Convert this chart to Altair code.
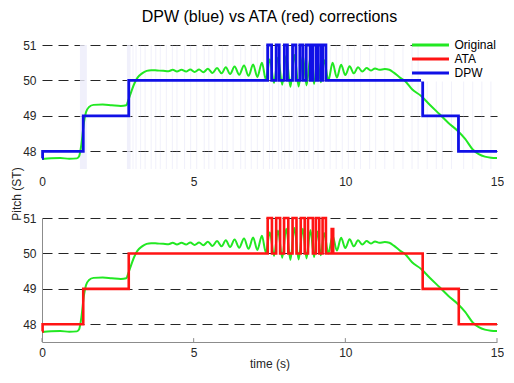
import altair as alt
import pandas as pd

# ---------------- data ----------------
orig_t = [0.0, 0.3, 0.6, 0.9, 1.15, 1.22, 1.3, 1.38, 1.45, 1.55, 1.7, 2.0, 2.3, 2.6, 2.78,
          2.85, 2.95, 3.05, 3.15, 3.3, 3.45, 3.6, 3.8, 4.0,
          4.17, 4.31, 4.45, 4.6, 4.75, 4.89, 5.03, 5.18, 5.32, 5.47, 5.62, 5.77, 5.92, 6.06,
          6.2, 6.35, 6.5, 6.66, 6.81, 6.96, 7.1, 7.25, 7.38, 7.51, 7.65, 7.78, 7.92, 8.05,
          8.19, 8.32, 8.46, 8.6, 8.72, 8.85, 8.97, 9.08, 9.19, 9.3, 9.44, 9.58, 9.72, 9.86,
          10.0, 10.14, 10.28, 10.42, 10.56, 10.7, 10.84, 10.98, 11.12, 11.3, 11.45, 11.6,
          11.8, 11.95, 12.2, 12.5, 12.8, 13.1, 13.4, 13.7, 13.95, 14.2, 14.4, 14.6, 14.8, 15.0]
orig_v = [47.78, 47.80, 47.81, 47.79, 47.80, 47.85, 48.2, 48.8, 49.1, 49.25, 49.31, 49.32, 49.30, 49.28, 49.30,
          49.45, 49.70, 49.92, 50.08, 50.20, 50.27, 50.29, 50.28, 50.27,
          50.26, 50.30, 50.25, 50.30, 50.25, 50.31, 50.24, 50.31, 50.23, 50.33, 50.21, 50.35, 50.20, 50.37,
          50.18, 50.39, 50.16, 50.42, 50.13, 50.45, 50.10, 50.50, 50.02, 50.60, 49.93, 50.65, 49.88, 50.70,
          49.82, 50.72, 49.83, 50.70, 49.86, 50.66, 49.90, 50.62, 49.95, 50.58, 50.00, 50.50, 50.08, 50.44,
          50.15, 50.40, 50.20, 50.37, 50.25, 50.35, 50.28, 50.34, 50.30, 50.32, 50.30, 50.22,
          50.08, 50.00, 49.75, 49.56, 49.30, 49.05, 48.80, 48.58, 48.35, 48.05, 47.92, 47.85, 47.82, 47.81]

dpw_t = [0.0, 0.02, 1.36, 2.86, 7.44, 7.57, 7.72, 7.82, 7.99, 8.09, 8.26, 8.37, 8.50, 8.60,
         8.71, 8.84, 8.93, 9.04, 9.10, 9.20, 9.25, 9.36, 12.55, 13.73, 15.0]
dpw_v = [47.8, 48, 49, 50, 51, 50, 51, 50, 51, 50, 51, 50, 51, 50,
         51, 50, 51, 50, 51, 50, 51, 50, 49, 48, 48]

ata_t = [0.0, 0.02, 1.36, 2.86, 7.44, 7.58, 7.72, 7.85, 7.98, 8.12, 8.26, 8.39, 8.53, 8.66,
         8.77, 8.93, 9.03, 9.14, 9.25, 9.36, 9.55, 9.60, 12.55, 13.74, 15.0]
ata_v = [47.8, 48, 49, 50, 51, 50, 51, 50, 51, 50, 51, 50, 51, 50,
         51, 50, 51, 50, 51, 50, 50.69, 50, 49, 48, 48]

# faint frame markers shown behind the DPW panel
shade_t = [3.0, 3.1, 3.25, 3.4, 3.6, 3.75, 3.9, 4.1, 4.3, 4.45, 4.7, 4.9, 5.1, 5.35, 5.5, 5.7,
           5.95, 6.1, 6.3, 6.55, 6.7, 6.9, 7.1, 7.3, 7.5, 7.6, 7.8, 7.9, 8.0, 8.15, 8.3, 8.4,
           8.5, 8.65, 8.8, 8.95, 9.1, 9.3, 9.5, 9.7, 9.9, 10.1, 10.3, 10.5, 10.8, 11.0, 11.3,
           11.6, 11.9, 12.2, 12.4, 12.7, 13.0, 13.2, 13.5, 13.9, 14.2, 14.5, 14.8]
band_start = [1.25, 2.80]
band_end = [1.48, 2.92]

grid_levels = [48, 49, 50, 51]
x_ticks = [0, 5, 10, 15]
series_names = ["Original", "ATA", "DPW"]
series_colors = ["#22e822", "#ff1414", "#1010e6"]

# ---------------- tables ----------------
orig_df = pd.DataFrame({"t": orig_t, "v": orig_v, "series": "Original"})
dpw_df = pd.DataFrame({"t": dpw_t, "v": dpw_v, "series": "DPW"})
ata_df = pd.DataFrame({"t": ata_t, "v": ata_v, "series": "ATA"})
shade_df = pd.DataFrame({"t": shade_t})
band_df = pd.DataFrame({"t0": band_start, "t1": band_end})
tick_df = pd.DataFrame({"t": x_ticks, "lo": 47.5, "hi": 47.61})

FONT = "Liberation Sans"
W, H, GAP = 455, 124, 49
xscale = alt.Scale(domain=[0, 15], nice=False, zero=False)
yscale = alt.Scale(domain=[47.5, 51], nice=False, zero=False)
cscale = alt.Scale(domain=series_names, range=series_colors)

legend = alt.Legend(
    title=None, orient="none", legendX=379, legendY=-9.5,
    symbolType="M-3.08,0H3.08", symbolSize=144, symbolStrokeWidth=3,
    labelOffset=16.5, rowPadding=-0.8, labelFontSize=12, labelFont=FONT,
    labelColor="black", fillColor="white", padding=2,
)

def y_axis(with_domain, title=None):
    kw = dict(values=grid_levels, ticks=False, grid=True, gridDash=[10, 6],
              gridColor="#262626", gridWidth=1.2, gridOpacity=1, labelFlush=False,
              labelPadding=6, labelFontSize=12, labelFont=FONT, labelColor="#262626",
              domain=with_domain, domainColor="#8c8c8c", domainWidth=1)
    if title:
        kw.update(title=title, titleX=-19, titleY=H + GAP / 2, titleAngle=270,
                  titleBaseline="bottom", titleAlign="center", titleFontSize=12,
                  titleFont=FONT, titleFontWeight="normal", titleColor="#262626")
    else:
        kw.update(title=None)
    return alt.Axis(**kw)

def x_axis(with_domain, title=None, pad=7):
    kw = dict(values=x_ticks, ticks=False, grid=False, labelPadding=pad, labelFlush=False,
              labelFontSize=12, labelFont=FONT, labelColor="#262626",
              domain=with_domain, domainColor="#8c8c8c", domainWidth=1)
    if title:
        kw.update(title=title, titleFontSize=12, titleFont=FONT, titleFontWeight="normal",
                  titleColor="#262626", titlePadding=0)
    else:
        kw.update(title=None)
    return alt.Axis(**kw)

# ---------------- top panel (DPW) ----------------
shade = alt.Chart(shade_df).mark_rule(color="#c9c9f0", opacity=0.25, strokeWidth=1).encode(
    x=alt.X("t:Q", scale=xscale, axis=x_axis(False)))
bands = alt.Chart(band_df).mark_rect(color="#ececfa", opacity=0.8).encode(
    x=alt.X("t0:Q", scale=xscale), x2="t1:Q")
g_top = alt.Chart(orig_df).mark_line(strokeWidth=2, interpolate="monotone").encode(
    x=alt.X("t:Q", scale=xscale, axis=x_axis(False)),
    y=alt.Y("v:Q", scale=yscale, axis=y_axis(False, "Pitch (ST)")),
    color=alt.Color("series:N", scale=cscale, legend=legend))
b_top = alt.Chart(dpw_df).mark_line(strokeWidth=2.8, interpolate="step-after").encode(
    x=alt.X("t:Q", scale=xscale),
    y=alt.Y("v:Q", scale=yscale),
    color=alt.Color("series:N", scale=cscale, legend=legend))
top = alt.layer(shade, bands, g_top, b_top).properties(width=W, height=H)

# ---------------- bottom panel (ATA) ----------------
ticks_in = alt.Chart(tick_df).mark_rule(color="#8c8c8c", strokeWidth=1).encode(
    x=alt.X("t:Q", scale=xscale), y=alt.Y("lo:Q", scale=yscale), y2="hi:Q")
g_bot = alt.Chart(orig_df).mark_line(strokeWidth=2, interpolate="monotone").encode(
    x=alt.X("t:Q", scale=xscale, axis=x_axis(True, "time (s)", pad=5)),
    y=alt.Y("v:Q", scale=yscale, axis=y_axis(True)),
    color=alt.Color("series:N", scale=cscale, legend=None))
r_bot = alt.Chart(ata_df).mark_line(strokeWidth=2.6, interpolate="step-after").encode(
    x=alt.X("t:Q", scale=xscale),
    y=alt.Y("v:Q", scale=yscale),
    color=alt.Color("series:N", scale=cscale, legend=None))
bottom = alt.layer(ticks_in, g_bot, r_bot).properties(width=W, height=H)

chart = alt.vconcat(top, bottom, spacing=GAP, bounds="flush").resolve_legend(
    color="independent").resolve_scale(color="independent").properties(
    title=alt.TitleParams("DPW (blue) vs ATA (red) corrections", fontSize=16,
                          fontWeight="normal", font=FONT, color="black",
                          anchor="middle", frame="group", offset=11),
    padding={"left": 2, "top": 0, "right": 0, "bottom": 3},
).configure_view(stroke=None)

chart.save("out.html", embed_options={"renderer": "svg", "actions": False})
